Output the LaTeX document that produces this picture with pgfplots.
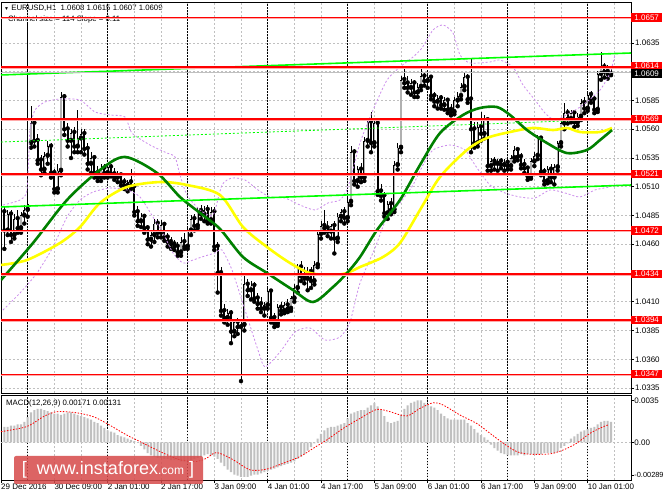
\documentclass[border=0pt]{standalone}
\usepackage{pgfplots}
\pgfplotsset{compat=1.18}
\usepackage{pgfplotstable}
\usepackage{fontspec}
\setmainfont{Liberation Sans}

\definecolor{mtgrid}{RGB}{192,192,192}
\definecolor{bullgray}{RGB}{176,176,176}
\definecolor{madark}{RGB}{0,128,0}
\definecolor{mayellow}{RGB}{255,255,0}
\definecolor{chlime}{RGB}{0,255,0}
\definecolor{bandviolet}{RGB}{204,140,236}
\definecolor{lvlred}{RGB}{255,0,0}
\definecolor{lvlpink}{RGB}{255,170,170}
\definecolor{wmred}{RGB}{214,74,74}

% EURUSD H1 candles: bar index, open, high, low, close
\pgfplotstableread{
x o h l c
1 1.0488 1.0493 1.0456 1.0472
2 1.0472 1.0490 1.0468 1.0486
3 1.0486 1.0490 1.0462 1.0468
4 1.0468 1.0486 1.0465 1.0482
5 1.0482 1.0490 1.0470 1.0474
6 1.0474 1.0488 1.0470 1.0485
7 1.0485 1.0494 1.0478 1.0490
8 1.0490 1.0653 1.0484 1.0495
9 1.0548 1.0580 1.0544 1.0565
10 1.0565 1.0567 1.0545 1.0550
11 1.0550 1.0556 1.0530 1.0533
12 1.0533 1.0538 1.0520 1.0525
13 1.0525 1.0540 1.0522 1.0537
14 1.0537 1.0550 1.0530 1.0545
15 1.0545 1.0548 1.0518 1.0522
16 1.0522 1.0525 1.0505 1.0508
17 1.0508 1.0530 1.0505 1.0524
18 1.0524 1.0592 1.0520 1.0588
19 1.0588 1.0591 1.0555 1.0560
20 1.0560 1.0565 1.0545 1.0550
21 1.0550 1.0560 1.0535 1.0557
22 1.0557 1.0562 1.0540 1.0545
23 1.0545 1.0577 1.0540 1.0552
24 1.0552 1.0560 1.0540 1.0556
25 1.0556 1.0560 1.0538 1.0543
26 1.0543 1.0548 1.0525 1.0530
27 1.0530 1.0540 1.0522 1.0535
28 1.0535 1.0538 1.0518 1.0522
29 1.0522 1.0528 1.0515 1.0518
30 1.0518 1.0530 1.0515 1.0526
31 1.0526 1.0530 1.0518 1.0522
32 1.0522 1.0529 1.0518 1.0527
33 1.0527 1.0530 1.0519 1.0521
34 1.0521 1.0526 1.0516 1.0518
35 1.0518 1.0524 1.0514 1.0520
36 1.0520 1.0522 1.0511 1.0514
37 1.0514 1.0518 1.0508 1.0511
38 1.0511 1.0516 1.0506 1.0514
39 1.0514 1.0525 1.0508 1.0510
40 1.0510 1.0513 1.0485 1.0488
41 1.0488 1.0493 1.0476 1.0480
42 1.0480 1.0487 1.0475 1.0484
43 1.0484 1.0486 1.0470 1.0474
44 1.0474 1.0477 1.0460 1.0464
45 1.0464 1.0472 1.0458 1.0468
46 1.0468 1.0482 1.0462 1.0478
47 1.0478 1.0482 1.0466 1.0470
48 1.0470 1.0481 1.0466 1.0477
49 1.0477 1.0479 1.0463 1.0466
50 1.0466 1.0470 1.0458 1.0462
51 1.0462 1.0466 1.0456 1.0460
52 1.0460 1.0464 1.0455 1.0458
53 1.0458 1.0462 1.0450 1.0453
54 1.0453 1.0466 1.0450 1.0462
55 1.0462 1.0470 1.0456 1.0458
56 1.0458 1.0475 1.0456 1.0472
57 1.0472 1.0485 1.0468 1.0482
58 1.0482 1.0486 1.0472 1.0476
59 1.0476 1.0492 1.0474 1.0489
60 1.0489 1.0494 1.0482 1.0486
61 1.0486 1.0493 1.0480 1.0490
62 1.0490 1.0494 1.0478 1.0481
63 1.0481 1.0492 1.0478 1.0488
64 1.0488 1.0492 1.0455 1.0458
65 1.0458 1.0462 1.0418 1.0435
66 1.0435 1.0440 1.0398 1.0402
67 1.0402 1.0408 1.0392 1.0396
68 1.0396 1.0404 1.0390 1.0400
69 1.0400 1.0403 1.0374 1.0384
70 1.0384 1.0395 1.0380 1.0392
71 1.0392 1.0396 1.0382 1.0388
72 1.0388 1.0394 1.0341 1.0390
73 1.0390 1.0435 1.0385 1.0425
74 1.0425 1.0430 1.0415 1.0420
75 1.0420 1.0428 1.0412 1.0424
76 1.0424 1.0427 1.0410 1.0413
77 1.0413 1.0418 1.0404 1.0408
78 1.0408 1.0414 1.0401 1.0404
79 1.0404 1.0410 1.0398 1.0407
80 1.0407 1.0422 1.0404 1.0419
81 1.0419 1.0421 1.0392 1.0396
82 1.0396 1.0400 1.0388 1.0391
83 1.0391 1.0408 1.0389 1.0405
84 1.0405 1.0410 1.0399 1.0402
85 1.0402 1.0410 1.0400 1.0407
86 1.0407 1.0412 1.0401 1.0404
87 1.0404 1.0415 1.0402 1.0413
88 1.0413 1.0425 1.0410 1.0422
89 1.0422 1.0443 1.0418 1.0440
90 1.0440 1.0445 1.0428 1.0432
91 1.0432 1.0440 1.0426 1.0430
92 1.0430 1.0440 1.0420 1.0436
93 1.0436 1.0440 1.0422 1.0428
94 1.0428 1.0445 1.0425 1.0442
95 1.0442 1.0472 1.0440 1.0469
96 1.0469 1.0480 1.0465 1.0476
97 1.0476 1.0490 1.0470 1.0474
98 1.0474 1.0480 1.0467 1.0471
99 1.0471 1.0478 1.0465 1.0476
100 1.0476 1.0480 1.0452 1.0465
101 1.0465 1.0487 1.0462 1.0484
102 1.0484 1.0491 1.0480 1.0488
103 1.0488 1.0492 1.0478 1.0483
104 1.0483 1.0500 1.0480 1.0497
105 1.0497 1.0545 1.0494 1.0540
106 1.0540 1.0543 1.0512 1.0515
107 1.0515 1.0528 1.0510 1.0525
108 1.0525 1.0531 1.0514 1.0518
109 1.0518 1.0553 1.0515 1.0550
110 1.0550 1.0570 1.0545 1.0566
111 1.0566 1.0575 1.0540 1.0548
112 1.0548 1.0570 1.0545 1.0565
113 1.0565 1.0568 1.0503 1.0506
114 1.0506 1.0512 1.0498 1.0502
115 1.0502 1.0505 1.0484 1.0487
116 1.0487 1.0498 1.0482 1.0495
117 1.0495 1.0500 1.0486 1.0490
118 1.0490 1.0532 1.0488 1.0529
119 1.0529 1.0548 1.0525 1.0544
120 1.0544 1.0606 1.0540 1.0603
121 1.0603 1.0614 1.0596 1.0600
122 1.0600 1.0606 1.0592 1.0596
123 1.0596 1.0604 1.0590 1.0600
124 1.0600 1.0603 1.0588 1.0592
125 1.0592 1.0600 1.0588 1.0597
126 1.0597 1.0612 1.0594 1.0606
127 1.0606 1.0610 1.0598 1.0602
128 1.0602 1.0608 1.0596 1.0605
129 1.0605 1.0607 1.0586 1.0589
130 1.0589 1.0592 1.0580 1.0584
131 1.0584 1.0590 1.0578 1.0587
132 1.0587 1.0590 1.0578 1.0581
133 1.0581 1.0588 1.0577 1.0585
134 1.0585 1.0587 1.0574 1.0577
135 1.0577 1.0582 1.0572 1.0575
136 1.0575 1.0588 1.0573 1.0585
137 1.0585 1.0592 1.0580 1.0589
138 1.0589 1.0600 1.0586 1.0597
139 1.0597 1.0609 1.0594 1.0605
140 1.0605 1.0608 1.0583 1.0586
141 1.0586 1.0622 1.0540 1.0560
142 1.0560 1.0566 1.0544 1.0548
143 1.0548 1.0566 1.0545 1.0562
144 1.0562 1.0575 1.0550 1.0556
145 1.0556 1.0572 1.0552 1.0568
146 1.0568 1.0570 1.0524 1.0528
147 1.0528 1.0535 1.0524 1.0532
148 1.0532 1.0536 1.0525 1.0530
149 1.0530 1.0534 1.0524 1.0532
150 1.0532 1.0535 1.0526 1.0529
151 1.0529 1.0534 1.0524 1.0531
152 1.0531 1.0534 1.0525 1.0528
153 1.0528 1.0538 1.0525 1.0535
154 1.0535 1.0545 1.0532 1.0542
155 1.0542 1.0544 1.0533 1.0536
156 1.0536 1.0539 1.0526 1.0529
157 1.0529 1.0534 1.0522 1.0526
158 1.0526 1.0528 1.0516 1.0519
159 1.0519 1.0535 1.0517 1.0532
160 1.0532 1.0540 1.0528 1.0537
161 1.0537 1.0555 1.0534 1.0552
162 1.0552 1.0554 1.0520 1.0523
163 1.0523 1.0526 1.0512 1.0515
164 1.0515 1.0528 1.0513 1.0525
165 1.0525 1.0530 1.0514 1.0518
166 1.0518 1.0530 1.0512 1.0527
167 1.0527 1.0550 1.0524 1.0548
168 1.0548 1.0568 1.0545 1.0565
169 1.0565 1.0583 1.0560 1.0574
170 1.0574 1.0578 1.0565 1.0569
171 1.0569 1.0577 1.0566 1.0574
172 1.0574 1.0576 1.0562 1.0566
173 1.0566 1.0574 1.0563 1.0571
174 1.0571 1.0586 1.0568 1.0583
175 1.0583 1.0588 1.0574 1.0578
176 1.0578 1.0592 1.0576 1.0590
177 1.0590 1.0593 1.0583 1.0586
178 1.0586 1.0589 1.0574 1.0577
179 1.0577 1.0611 1.0575 1.0608
180 1.0608 1.0627 1.0603 1.0614
181 1.0614 1.0618 1.0605 1.0610
182 1.0610 1.0616 1.0604 1.0608
183 1.0608 1.0615 1.0607 1.0609
}\candles

% MACD(12,26,9) main line, drawn as histogram
\pgfplotstableread{
x m
1 0.0013
2 0.0013
3 0.0014
4 0.0014
5 0.0015
6 0.0015
7 0.0017
8 0.0021
9 0.0025
10 0.0027
11 0.0028
12 0.0028
13 0.0027
14 0.0026
15 0.0025
16 0.0024
17 0.0024
18 0.0023
19 0.0024
20 0.0025
21 0.0025
22 0.0024
23 0.0023
24 0.0022
25 0.0021
26 0.0020
27 0.0019
28 0.0017
29 0.0016
30 0.0014
31 0.0012
32 0.0010
33 0.0009
34 0.0008
35 0.0006
36 0.0005
37 0.0004
38 0.0003
39 0.0002
40 0.0001
41 0.0000
42 -0.0003
43 -0.0006
44 -0.0009
45 -0.0011
46 -0.0012
47 -0.0013
48 -0.0013
49 -0.0014
50 -0.0014
51 -0.0015
52 -0.0015
53 -0.0015
54 -0.0016
55 -0.0016
56 -0.0016
57 -0.0015
58 -0.0014
59 -0.0013
60 -0.0012
61 -0.0011
62 -0.0010
63 -0.0011
64 -0.0012
65 -0.0014
66 -0.0017
67 -0.0020
68 -0.0023
69 -0.0025
70 -0.0027
71 -0.0028
72 -0.0029
73 -0.0029
74 -0.0029
75 -0.0028
76 -0.0027
77 -0.0027
78 -0.0026
79 -0.0025
80 -0.0024
81 -0.0023
82 -0.0022
83 -0.0021
84 -0.0020
85 -0.0019
86 -0.0018
87 -0.0017
88 -0.0016
89 -0.0014
90 -0.0012
91 -0.0010
92 -0.0007
93 -0.0004
94 -0.0001
95 0.0003
96 0.0007
97 0.0010
98 0.0012
99 0.0013
100 0.0013
101 0.0014
102 0.0015
103 0.0016
104 0.0020
105 0.0024
106 0.0025
107 0.0026
108 0.0027
109 0.0027
110 0.0029
111 0.0031
112 0.0033
113 0.0030
114 0.0027
115 0.0022
116 0.0017
117 0.0016
118 0.0017
119 0.0018
120 0.0023
121 0.0028
122 0.0031
123 0.0033
124 0.0034
125 0.0035
126 0.0035
127 0.0033
128 0.0032
129 0.0030
130 0.0029
131 0.0027
132 0.0024
133 0.0022
134 0.0020
135 0.0019
136 0.0019
137 0.0019
138 0.0019
139 0.0019
140 0.0016
141 0.0014
142 0.0011
143 0.0008
144 0.0006
145 0.0004
146 0.0002
147 -0.0002
148 -0.0005
149 -0.0007
150 -0.0009
151 -0.0010
152 -0.0011
153 -0.0011
154 -0.0011
155 -0.0011
156 -0.0010
157 -0.0011
158 -0.0010
159 -0.0010
160 -0.0010
161 -0.0010
162 -0.0010
163 -0.0009
164 -0.0009
165 -0.0009
166 -0.0009
167 -0.0008
168 -0.0005
169 -0.0003
170 -0.0001
171 0.0003
172 0.0005
173 0.0007
174 0.0009
175 0.0010
176 0.0011
177 0.0012
178 0.0013
179 0.0015
180 0.0017
181 0.0018
182 0.0018
183 0.0017
}\macd

\pgfplotsset{
  mtpanel/.style={
    scale only axis, width=630pt,
    xmin=0, xmax=189,
    clip mode=individual,
    axis line style={black, line width=0.8pt},
    xtick={0,16,...,176}, minor xtick={8,24,...,184},
    xmajorgrids, xminorgrids,
    grid style={mtgrid, dash pattern=on 2pt off 2pt, line width=0.5pt},
    minor grid style={mtgrid, dash pattern=on 2pt off 2pt, line width=0.5pt},
    minor tick length=0pt,
    extra x ticks={8,32,56,80,104,128,152,176},
    extra x tick labels={},
    extra x tick style={grid=major, major tick length=0pt,
      major grid style={black, dash pattern=on 1.5pt off 1.5pt, line width=0.7pt}},
    ytick pos=right, yticklabel pos=right,
    tick align=outside,
    scaled y ticks=false,
    ytick style={black, line width=0.6pt},
    every tick label/.append style={font=\fontsize{8}{9}\selectfont, inner sep=1pt},
  },
  candle/.style={only marks, mark=none, forget plot,
    error bars/.cd, y dir=plus, y explicit, error mark=none},
}

\begin{document}
\begin{tikzpicture}
\fill[white] (0,0) rectangle (664pt,498pt);
\path[use as bounding box] (0,0) rectangle (664pt,498pt);

\node[anchor=west, inner sep=0pt, font=\fontsize{7.8}{9}\selectfont] at (4pt,490pt)
  {{\fontsize{5}{6}\selectfont ▼}\ EURUSD,H1\ \ 1.0608 1.0615 1.0607 1.0609};
\node[anchor=west, inner sep=0pt, font=\fontsize{7.8}{9}\selectfont] at (8pt,479pt)
  {Channel size = 114 Slope = 0.11};
\node[anchor=west, inner sep=0pt, font=\fontsize{7.8}{9}\selectfont] at (6pt,95pt)
  {MACD(12,26,9) 0.00171 0.00131};

% price panel
\begin{axis}[mtpanel,
  at={(1pt,105pt)}, anchor=south west, height=391pt,
  ymin=1.033065, ymax=1.067065,
  xticklabels={}, xtick style={draw=none},
  ytick={1.0335,1.036,1.0385,1.041,1.0435,1.046,1.0485,1.051,1.0535,1.056,1.0585,1.061,1.0635},
  yticklabels={1.0335,1.0360,1.0385,1.0410,,1.0460,1.0485,1.0510,1.0535,1.0560,1.0585,,1.0635},
  ymajorgrids, major tick length=3pt,
]
% wicks and bodies
\addplot[candle, error bar style={black, line width=0.9pt}]
  table[x=x, y=l, y error plus expr=\thisrow{h}-\thisrow{l}] {\candles};
\addplot[candle, error bar style={black, line width=2.3pt}]
  table[x=x, y expr={min(\thisrow{o},\thisrow{c})},
        y error plus expr={max(abs(\thisrow{c}-\thisrow{o}),0.00004)}] {\candles};
\addplot[candle, error bar style={bullgray, line width=1.1pt}]
  table[x=x, y expr={\thisrow{o}+0.00007},
        y error plus expr={max(\thisrow{c}-\thisrow{o}-0.00014,0)}] {\candles};

% bands
\addplot[bandviolet, line width=0.8pt, dash pattern=on 2pt off 2pt, smooth, tension=0.4] coordinates {
(0.6,1.04941) (5.7,1.04985) (7.8,1.05072) (8.7,1.05593) (10.2,1.05767) (13.2,1.05837)
(17.7,1.05863) (23.7,1.05854) (28.2,1.0575) (32.7,1.05724) (37.2,1.05707) (39.3,1.05567)
(44.7,1.05463) (49.8,1.05393) (52.2,1.05359) (53.7,1.05202) (55.8,1.05028) (59.7,1.04898)
(63.6,1.04854) (66.3,1.05115) (69.3,1.05176) (73.2,1.05159) (77.1,1.05072) (80.7,1.05011)
(85.2,1.05002) (89.7,1.04941) (94.2,1.04898) (98.1,1.04959) (101.7,1.04985) (104.1,1.05098)
(107.7,1.0548) (111.6,1.05767) (115.8,1.06028) (119.7,1.06141) (123.6,1.06228) (126.3,1.06307)
(129.6,1.06463) (132.6,1.06507) (135.6,1.06437) (137.7,1.06246) (140.7,1.06176) (146.7,1.06185)
(149.7,1.06202) (153.6,1.06141) (156.6,1.05985) (160.2,1.05854) (163.2,1.05741) (166.2,1.0568)
(170.7,1.05741) (174.6,1.05811) (179.7,1.05941) (182.7,1.06089) (184.2,1.06246)};
\addplot[bandviolet, line width=0.8pt, dash pattern=on 2pt off 2pt, smooth, tension=0.4] coordinates {
(0.6,1.04028) (5.7,1.04176) (10.8,1.0435) (15.6,1.04576) (19.8,1.04837) (23.7,1.04985)
(27.6,1.05054) (32.7,1.05089) (37.8,1.05072) (41.7,1.05011) (45.6,1.04837) (48.6,1.04698)
(51.6,1.04524) (54.6,1.04437) (57.6,1.04463) (61.2,1.04498) (64.2,1.04524) (66.3,1.0455)
(69.3,1.04376) (73.2,1.04028) (77.1,1.0368) (79.2,1.03533) (83.7,1.03663) (88.2,1.03837)
(92.7,1.03872) (97.2,1.03767) (101.7,1.03793) (104.7,1.03924) (107.7,1.04263) (112.2,1.04567)
(115.8,1.04837) (119.7,1.04959) (123.6,1.05115) (126.6,1.05289) (129.6,1.0542) (134.7,1.05463)
(139.2,1.0542) (142.2,1.05289) (146.7,1.05115) (151.2,1.05046) (155.7,1.05011) (160.2,1.05002)
(164.7,1.05072) (169.2,1.05046) (173.7,1.05011) (178.2,1.05072) (182.7,1.05098)};

% moving averages
\addplot[mayellow, line width=2.6pt, smooth] coordinates {
(0,1.0442) (7.8,1.04463) (17.7,1.04611) (23.7,1.0475) (29.7,1.04959) (37.8,1.05098)
(47.7,1.05141) (55.8,1.05115) (65.7,1.05028) (72.6,1.0475) (79.8,1.04576) (86.7,1.04437)
(92.7,1.0435) (99.6,1.04333) (103.8,1.0435) (107.7,1.04402) (114.6,1.04489) (119.7,1.04611)
(125.7,1.04898) (131.7,1.05185) (139.8,1.0542) (145.8,1.05524) (152.7,1.05576) (159.6,1.05611)
(165.6,1.05593) (169.8,1.05611) (173.7,1.05576) (179.7,1.05576) (183.3,1.05611)};
\addplot[madark, line width=2.6pt, smooth] coordinates {
(0,1.04289) (9.6,1.04611) (19.8,1.04985) (29.7,1.05246) (37.2,1.05359) (46.8,1.0522)
(53.7,1.05011) (59.7,1.04872) (65.7,1.04733) (72.6,1.04489) (79.8,1.0435) (87.6,1.04202)
(93.6,1.04098) (99.6,1.04228) (103.8,1.0435) (107.7,1.04489) (112.8,1.04724) (119.7,1.04985)
(125.7,1.05289) (131.7,1.05567) (138.6,1.05724) (143.7,1.05785) (148.8,1.05793) (152.7,1.05724)
(157.8,1.05593) (163.8,1.0548) (169.8,1.05393) (175.8,1.0542) (179.7,1.05506) (183.3,1.05593)};

% regression channel
\addplot[chlime, line width=1.6pt] coordinates {(0,1.06072) (189,1.06263)};
\addplot[chlime, line width=0.8pt, dash pattern=on 2pt off 2pt] coordinates {(0,1.05489) (189,1.05693)};
\addplot[chlime, line width=1.6pt] coordinates {(0,1.04924) (189,1.05115)};

% horizontal levels
\pgfplotsinvokeforeach{1.0657,1.0614,1.0569,1.0521,1.0472,1.0434,1.0394,1.0347}{
  \addplot[lvlpink, line width=1pt, yshift=-1.3pt] coordinates {(0,#1) (189,#1)};
  \addplot[lvlred, line width=1.3pt] coordinates {(0,#1) (189,#1)};
}
\addplot[mtgrid, line width=0.8pt] coordinates {(0,1.0609) (189,1.0609)};

\tikzset{lvlbox/.style={anchor=west, inner sep=0pt, minimum height=8.4pt, minimum width=31pt,
  text=white, font=\fontsize{8}{9}\selectfont}}
\node[lvlbox, fill=lvlred] at (axis cs:189,1.0657) {1.0657};
\node[lvlbox, fill=lvlred, yshift=1pt] at (axis cs:189,1.0614) {1.0614};
\node[lvlbox, fill=black, yshift=-0.8pt] at (axis cs:189,1.0609) {1.0609};
\node[lvlbox, fill=lvlred] at (axis cs:189,1.0569) {1.0569};
\node[lvlbox, fill=lvlred] at (axis cs:189,1.0521) {1.0521};
\node[lvlbox, fill=lvlred] at (axis cs:189,1.0472) {1.0472};
\node[lvlbox, fill=lvlred] at (axis cs:189,1.0434) {1.0434};
\node[lvlbox, fill=lvlred] at (axis cs:189,1.0394) {1.0394};
\node[lvlbox, fill=lvlred] at (axis cs:189,1.0347) {1.0347};
\end{axis}

% MACD panel
\begin{axis}[mtpanel,
  at={(1pt,18pt)}, anchor=south west, height=85pt,
  ymin=-0.00316, ymax=0.00396,
  xtick pos=bottom, xticklabel pos=bottom,
  xtick style={black, line width=0.6pt},
  major tick length=3pt,
  xticklabels={29 Dec 2016,30 Dec 09:00,2 Jan 01:00,2 Jan 17:00,3 Jan 09:00,4 Jan 01:00,
    4 Jan 17:00,5 Jan 09:00,6 Jan 01:00,6 Jan 17:00,9 Jan 09:00,10 Jan 01:00},
  xticklabel style={anchor=north west, xshift=-1pt},
  ytick={-0.00275,0,0.0035},
  yticklabels={{\fontsize{7.4}{9}\selectfont -0.00289},0.00,0.0035},
  yticklabel style={xshift=-0.8pt},
]
\addplot[mtgrid, line width=0.6pt, dash pattern=on 2pt off 2pt] coordinates {(0,0) (189,0)};
\addplot[ybar, bar width=2.1pt, fill=mtgrid, draw=none] table[x=x, y=m] {\macd};
\addplot[red, line width=0.8pt, dash pattern=on 1.5pt off 1.5pt, smooth] coordinates {
(0,0.00089) (7.7,0.00131) (12.7,0.00214) (16.7,0.00256) (22.7,0.00247) (27.7,0.00214)
(31.7,0.00158) (37.7,0.00061) (42.7,-0.00008) (47.7,-0.00078) (53.7,-0.00147) (58.7,-0.00161)
(61.7,-0.00133) (64.7,-0.00086) (69.7,-0.00147) (74.7,-0.00231) (79.7,-0.00225) (84.7,-0.00175)
(89.7,-0.0012) (93.7,-0.0005) (97.7,0.00019) (102.7,0.00117) (107.7,0.002) (112.7,0.00275)
(116.7,0.00256) (121.7,0.0022) (125.7,0.00284) (129.7,0.00331) (132.7,0.00311) (137.7,0.00228)
(142.7,0.00158) (146.7,0.00075) (150.7,-0.00008) (154.7,-0.00078) (158.7,-0.001) (164.7,-0.00097)
(168.7,-0.00064) (172.7,-0.00008) (176.7,0.00075) (180.7,0.00131) (182.2,0.00145)};
\end{axis}

% watermark
\fill[wmred, opacity=0.85, rounded corners=2pt] (14pt,14pt) rectangle (203pt,42pt);
\node[text=white, anchor=center, inner sep=0pt] at (108pt,28pt)
  {{\fontsize{18}{20}\selectfont [\ \ www.instaforex}{\fontsize{12}{14}\selectfont .com}{\fontsize{18}{20}\selectfont\ ]}};
\end{tikzpicture}
\end{document}
